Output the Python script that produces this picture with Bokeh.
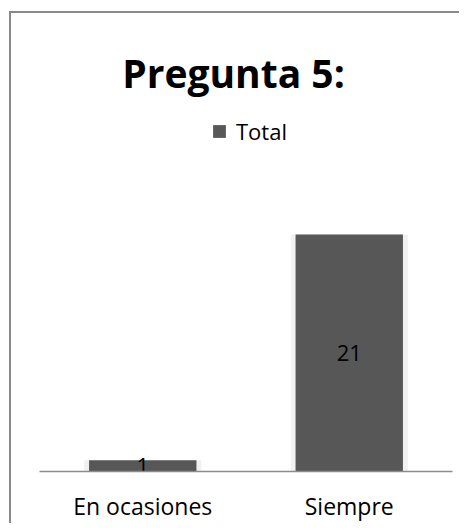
from bokeh.plotting import figure
from bokeh.models import ColumnDataSource, FactorRange, Label, Legend, LegendItem
from bokeh.core.properties import value
from bokeh.embed import file_html
from bokeh.resources import INLINE

categories = ["En ocasiones", "Siempre"]
totals = [1, 21]
series_name = "Total"
chart_title = "Pregunta 5:"

source = ColumnDataSource(data=dict(
    cat=categories,
    total=totals,
    mid=[t / 2 for t in totals],
    lbl=[str(t) for t in totals],
))

FONT = "Open Sans"

p = figure(
    width=450, height=512,
    x_range=FactorRange(factors=categories),
    y_range=(0, 40.6),
    output_backend="svg", toolbar_location=None,
    min_border_left=28, min_border_right=9, min_border_top=0, min_border_bottom=54,
)
p.styles = {"border-left": "2px solid #898989", "border-top": "2px solid #898989",
            "margin-left": "9px", "margin-top": "11px"}
p.outline_line_color = None
p.xgrid.visible = False
p.ygrid.visible = False
p.yaxis.visible = False

ax = p.xaxis[0]
ax.axis_line_color = "#8c8c8c"
ax.axis_line_width = 1.5
ax.major_tick_line_color = None
ax.minor_tick_line_color = None
ax.major_label_text_font = FONT
ax.major_label_text_font_size = "23px"
ax.major_label_text_color = "#000000"
ax.major_label_standoff = 12

# soft halo behind the bars
p.vbar(x="cat", top="total", width=0.567, source=source,
       fill_color="#f1f1f1", line_color=None)

bars = p.vbar(x="cat", top="total", width=0.52, source=source,
              fill_color="#575757", line_color=None)

p.text(x="cat", y="mid", text="lbl", source=source,
       text_font=value(FONT), text_font_size="22px", text_color="#000000",
       text_align="center", text_baseline="middle")

p.add_layout(Label(x=194, y=399, x_units="screen", y_units="screen",
                   text=chart_title, text_font=FONT, text_font_size="39px",
                   text_font_style="bold", text_color="#000000",
                   text_align="center", text_baseline="alphabetic"))

legend = Legend(items=[LegendItem(label=series_name, renderers=[bars])],
                location=(172, 325), padding=0, margin=0,
                border_line_color=None, background_fill_alpha=0,
                glyph_width=16, glyph_height=16, label_standoff=9,
                label_text_font=FONT, label_text_font_size="22px",
                label_text_color="#000000")
p.add_layout(legend)

open("out.html", "w").write(file_html(p, INLINE))
